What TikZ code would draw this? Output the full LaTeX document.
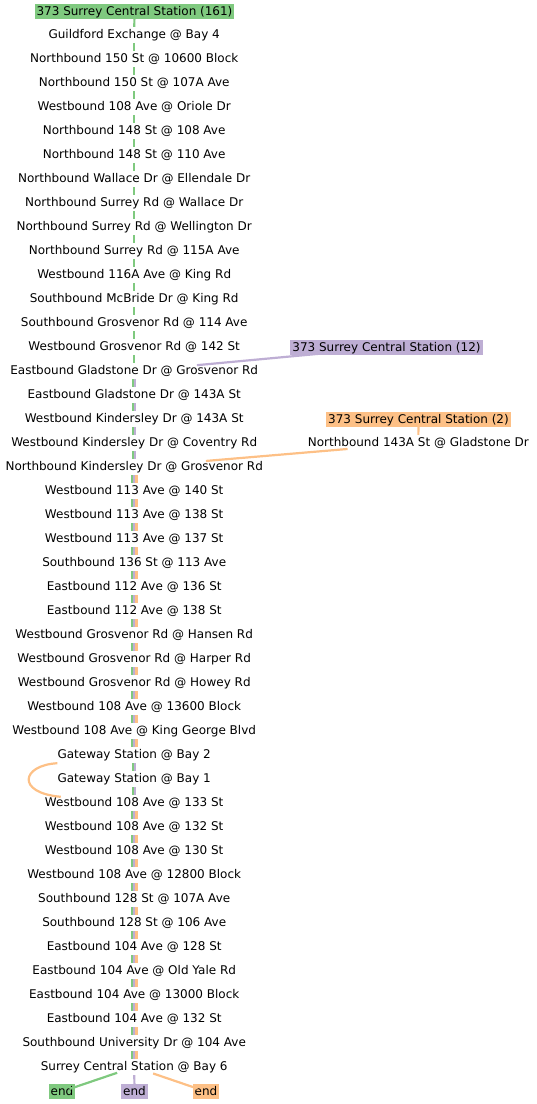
\documentclass[tikz,border=0pt]{standalone}
\usepackage{fontspec}
\setmainfont{DejaVu Sans}
\definecolor{rtGreen}{HTML}{7FC97F}
\definecolor{rtPurple}{HTML}{BEAED4}
\definecolor{rtOrange}{HTML}{FDC086}

\begin{document}
\begin{tikzpicture}[
  x=1pt,y=-1pt,
  font=\fontsize{12pt}{14pt}\selectfont,
  stopnode/.style={inner sep=0pt,minimum height=16pt,text height=9.6pt,text depth=2.4pt},
  routebox/.style={inner xsep=2pt,inner ysep=1.5pt,text height=9.6pt,text depth=2.4pt},
  greenline/.style={draw=rtGreen,line width=2.2pt},
  purpleline/.style={draw=rtPurple,line width=2.2pt},
  orangeline/.style={draw=rtOrange,line width=2.2pt}
]
\useasboundingbox (0,0) rectangle (537,1104);

% route heads
\node[routebox,fill=rtGreen]  (g0) at (134.5,11.5)  {373 Surrey Central Station (161)};
\node[routebox,fill=rtPurple] (p0) at (386.5,347.5) {373 Surrey Central Station (12)};
\node[routebox,fill=rtOrange] (o0) at (418.5,419.5) {373 Surrey Central Station (2)};
\node[stopnode] (o1) at (418.3,443) {Northbound 143A St @ Gladstone Dr};

% stops
\node[stopnode] (st1)  at (134.2,35)   {Guildford Exchange @ Bay 4};
\node[stopnode] (st2)  at (134.2,59)   {Northbound 150 St @ 10600 Block};
\node[stopnode] (st3)  at (134.2,83)   {Northbound 150 St @ 107A Ave};
\node[stopnode] (st4)  at (134.2,107)  {Westbound 108 Ave @ Oriole Dr};
\node[stopnode] (st5)  at (134.2,131)  {Northbound 148 St @ 108 Ave};
\node[stopnode] (st6)  at (134.2,155)  {Northbound 148 St @ 110 Ave};
\node[stopnode] (st7)  at (134.2,179)  {Northbound Wallace Dr @ Ellendale Dr};
\node[stopnode] (st8)  at (134.2,203)  {Northbound Surrey Rd @ Wallace Dr};
\node[stopnode] (st9)  at (134.2,227)  {Northbound Surrey Rd @ Wellington Dr};
\node[stopnode] (st10) at (134.2,251)  {Northbound Surrey Rd @ 115A Ave};
\node[stopnode] (st11) at (134.2,275)  {Westbound 116A Ave @ King Rd};
\node[stopnode] (st12) at (134.2,299)  {Southbound McBride Dr @ King Rd};
\node[stopnode] (st13) at (134.2,323)  {Southbound Grosvenor Rd @ 114 Ave};
\node[stopnode] (st14) at (134.2,347)  {Westbound Grosvenor Rd @ 142 St};
\node[stopnode] (st15) at (134.2,371)  {Eastbound Gladstone Dr @ Grosvenor Rd};
\node[stopnode] (st16) at (134.2,395)  {Eastbound Gladstone Dr @ 143A St};
\node[stopnode] (st17) at (134.2,419)  {Westbound Kindersley Dr @ 143A St};
\node[stopnode] (st18) at (134.2,443)  {Westbound Kindersley Dr @ Coventry Rd};
\node[stopnode] (st19) at (134.2,467)  {Northbound Kindersley Dr @ Grosvenor Rd};
\node[stopnode] (st20) at (134.2,491)  {Westbound 113 Ave @ 140 St};
\node[stopnode] (st21) at (134.2,515)  {Westbound 113 Ave @ 138 St};
\node[stopnode] (st22) at (134.2,539)  {Westbound 113 Ave @ 137 St};
\node[stopnode] (st23) at (134.2,563)  {Southbound 136 St @ 113 Ave};
\node[stopnode] (st24) at (134.2,587)  {Eastbound 112 Ave @ 136 St};
\node[stopnode] (st25) at (134.2,611)  {Eastbound 112 Ave @ 138 St};
\node[stopnode] (st26) at (134.2,635)  {Westbound Grosvenor Rd @ Hansen Rd};
\node[stopnode] (st27) at (134.2,659)  {Westbound Grosvenor Rd @ Harper Rd};
\node[stopnode] (st28) at (134.2,683)  {Westbound Grosvenor Rd @ Howey Rd};
\node[stopnode] (st29) at (134.2,707)  {Westbound 108 Ave @ 13600 Block};
\node[stopnode] (st30) at (134.2,731)  {Westbound 108 Ave @ King George Blvd};
\node[stopnode] (st31) at (134.2,755)  {Gateway Station @ Bay 2};
\node[stopnode] (st32) at (134.2,779)  {Gateway Station @ Bay 1};
\node[stopnode] (st33) at (134.2,803)  {Westbound 108 Ave @ 133 St};
\node[stopnode] (st34) at (134.2,827)  {Westbound 108 Ave @ 132 St};
\node[stopnode] (st35) at (134.2,851)  {Westbound 108 Ave @ 130 St};
\node[stopnode] (st36) at (134.2,875)  {Westbound 108 Ave @ 12800 Block};
\node[stopnode] (st37) at (134.2,899)  {Southbound 128 St @ 107A Ave};
\node[stopnode] (st38) at (134.2,923)  {Southbound 128 St @ 106 Ave};
\node[stopnode] (st39) at (134.2,947)  {Eastbound 104 Ave @ 128 St};
\node[stopnode] (st40) at (134.2,971)  {Eastbound 104 Ave @ Old Yale Rd};
\node[stopnode] (st41) at (134.2,995)  {Eastbound 104 Ave @ 13000 Block};
\node[stopnode] (st42) at (134.2,1019) {Eastbound 104 Ave @ 132 St};
\node[stopnode] (st43) at (134.2,1043) {Southbound University Dr @ 104 Ave};
\node[stopnode] (st44) at (134.2,1067) {Surrey Central Station @ Bay 6};

% ends
\node[routebox,fill=rtGreen]  (endg) at (62,1091.5)    {end};
\node[routebox,fill=rtPurple] (endp) at (134.5,1091.5) {end};
\node[routebox,fill=rtOrange] (endo) at (206,1091.5)   {end};

% green alone
\draw[greenline] (g0) -- (st1);
\foreach \i [evaluate=\i as \j using int(\i+1)] in {1,...,14}
  \draw[greenline] (st\i) -- (st\j);
% green + purple
\foreach \i [evaluate=\i as \j using int(\i+1)] in {15,16,17,18,31,32} {
  \draw[greenline]  ([xshift=-1.15pt]st\i.south) -- ([xshift=-1.15pt]st\j.north);
  \draw[purpleline] ([xshift=1.15pt]st\i.south) -- ([xshift=1.15pt]st\j.north);
}
% all three
\foreach \i [evaluate=\i as \j using int(\i+1)] in {19,20,21,22,23,24,25,26,27,28,29,30,33,34,35,36,37,38,39,40,41,42,43} {
  \draw[greenline]  ([xshift=-2.3pt]st\i.south) -- ([xshift=-2.3pt]st\j.north);
  \draw[purpleline] (st\i.south) -- (st\j.north);
  \draw[orangeline] ([xshift=2.3pt]st\i.south) -- ([xshift=2.3pt]st\j.north);
}

% branches joining
\draw[purpleline,shorten <=64pt,shorten >=63pt] (p0.center) -- (st15.center);
\draw[orangeline] (o0) -- (o1);
\draw[orangeline,shorten <=71pt,shorten >=72pt] (o1.center) -- (st19.center);
% orange skips Bay 1
\draw[orangeline] (st31.south west) .. controls +(-36,2) and +(-45,-4) .. ([xshift=16pt,yshift=-2pt]st33.north west);

% to the ends
\draw[greenline,shorten <=18pt,shorten >=8pt] (st44.center) -- (endg.center);
\draw[purpleline] (st44) -- (endp);
\draw[orangeline,shorten <=20pt,shorten >=9pt] (st44.center) -- (endo.center);
\end{tikzpicture}
\end{document}
